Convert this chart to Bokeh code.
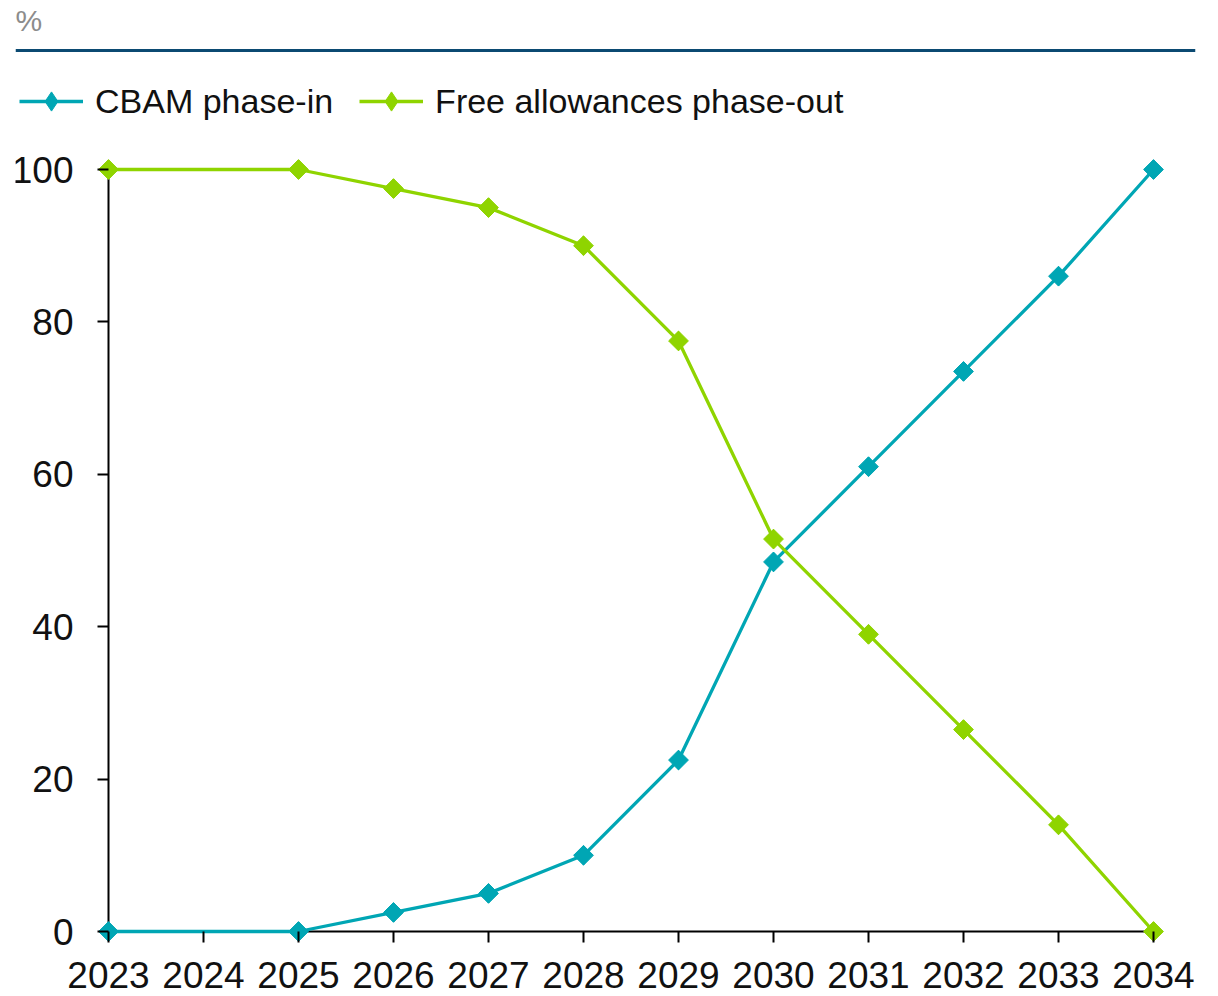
import math
from bokeh.plotting import figure
from bokeh.models import Range1d, FixedTicker, Legend, LegendItem, Span, Label
from bokeh.embed import file_html
from bokeh.resources import INLINE

# ---- data ----
years = [2023, 2025, 2026, 2027, 2028, 2029, 2030, 2031, 2032, 2033, 2034]
cbam = [0, 0, 2.5, 5, 10, 22.5, 48.5, 61, 73.5, 86, 100]
free = [100, 100, 97.5, 95, 90, 77.5, 51.5, 39, 26.5, 14, 0]
tick_years = list(range(2023, 2035))
y_ticks = [0, 20, 40, 60, 80, 100]
series_names = ["CBAM phase-in", "Free allowances phase-out"]
unit_label = "%"

TEAL = "#00A6B4"
GREEN = "#8FD400"
NAVY = "#0B4A72"
FONT = "Liberation Sans"

# ---- layout (canvas pixels) ----
W, H = 1210, 996
PX_PER_YEAR = 95.0
PX_PER_UNIT = 7.62
X0_PX = 108   # first year position
Y0_PX = 931   # value 0 position
FRAME_L, FRAME_R = 15, 1195
FRAME_T, FRAME_B = 0, 996


def dx(px):
    return tick_years[0] + (px - X0_PX) / PX_PER_YEAR


def dy(py):
    return (Y0_PX - py) / PX_PER_UNIT


p = figure(width=W, height=H, output_backend="svg", toolbar_location=None, title=None,
           x_range=Range1d(dx(FRAME_L), dx(FRAME_R)),
           y_range=Range1d(dy(FRAME_B), dy(FRAME_T)),
           min_border_left=FRAME_L, min_border_right=W - FRAME_R,
           min_border_top=FRAME_T, min_border_bottom=H - FRAME_B)
p.outline_line_color = None
p.grid.visible = False
p.background_fill_color = "white"
p.border_fill_color = "white"

p.xaxis.fixed_location = 0
p.yaxis.fixed_location = tick_years[0]
p.xaxis.ticker = FixedTicker(ticks=tick_years)
p.yaxis.ticker = FixedTicker(ticks=y_ticks)
for ax in (p.xaxis, p.yaxis):
    ax.axis_line_color = None
    ax.major_tick_line_color = "black"
    ax.major_tick_line_width = 2
    ax.major_tick_out = 11
    ax.major_tick_in = 0
    ax.minor_tick_line_color = None
    ax.major_label_text_font = FONT
    ax.major_label_text_font_size = "37px"
    ax.major_label_text_color = "#111111"
p.xaxis.major_label_standoff = 19
p.yaxis.major_label_standoff = 24

# axis lines
p.segment(x0=[years[0], years[0]], y0=[y_ticks[0], y_ticks[0]],
          x1=[years[-1], years[0]], y1=[y_ticks[0], y_ticks[-1]],
          line_color="black", line_width=2)

l1 = p.line(years, cbam, line_color=TEAL, line_width=3.3)
k1 = p.scatter(years, cbam, marker="diamond", size=19, fill_color=TEAL, line_color=TEAL)
s1 = p.scatter(years, cbam, marker="square", size=14, angle=math.pi / 4,
               fill_color=TEAL, line_color=TEAL)
l2 = p.line(years, free, line_color=GREEN, line_width=3.3)
k2 = p.scatter(years, free, marker="diamond", size=19, fill_color=GREEN, line_color=GREEN)
s2 = p.scatter(years, free, marker="square", size=14, angle=math.pi / 4,
               fill_color=GREEN, line_color=GREEN)

legend = Legend(items=[LegendItem(label=series_names[0], renderers=[l1, k1]),
                       LegendItem(label=series_names[1], renderers=[l2, k2])],
                orientation="horizontal", location=(4, 871),
                glyph_width=64, glyph_height=48, label_standoff=12, spacing=26,
                padding=0, margin=0, border_line_color=None, background_fill_alpha=0,
                label_text_font=FONT, label_text_font_size="34px", label_text_color="#111111")
p.add_layout(legend)

p.add_layout(Span(location=dy(50), dimension="width", line_color=NAVY, line_width=3))
p.add_layout(Label(x=dx(15), y=dy(20), text=unit_label, text_baseline="middle",
                   text_font=FONT, text_font_size="30px", text_color="#8C8C8C"))

open("out.html", "w").write(file_html(p, INLINE))
